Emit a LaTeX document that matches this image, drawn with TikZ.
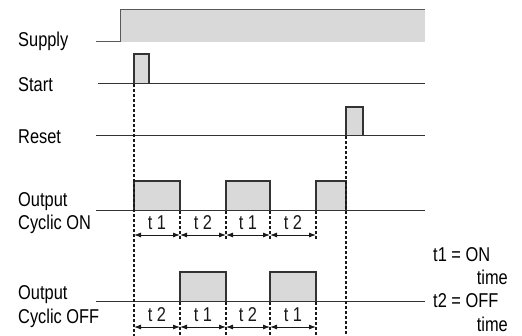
\documentclass[tikz,border=0pt]{standalone}
\usepackage{fontspec}
\setmainfont{Liberation Sans}[FakeStretch=0.82]
\usepackage{tikz}
\usetikzlibrary{arrows.meta}

\begin{document}
\begin{tikzpicture}[x=1pt, y=-1pt,
    senal/.style={black!80, line width=1pt},
    pulso/.style={fill=gray!30, draw=black!80, line width=1.1pt},
    guia/.style={black!90, line width=1.4pt, dash pattern=on 3pt off 2pt},
    tramo/.style={{Latex[length=7pt,width=5pt]}-{Latex[length=7pt,width=5pt]}, black!90, line width=0.9pt},
    texto/.style={anchor=base west, inner sep=0pt, font=\fontsize{20}{24}\selectfont},
    etiq/.style={above=5pt, inner sep=0pt, font=\fontsize{20}{24}\selectfont}]
    \useasboundingbox (0,0) rectangle (522,336);

    % Nombres de las señales
    \node[texto] (supply) at (18,46.5) {Supply};
    \node[texto] (start) at (18,92) {Start};
    \node[texto] (reset) at (18,144) {Reset};
    \node[texto] (outon) at (18,207) {Output};
    \node[texto] (cycon) at (18,230) {Cyclic ON};
    \node[texto] (outoff) at (18,300) {Output};
    \node[texto] (cycoff) at (18,323.5) {Cyclic OFF};

    % Alimentación
    \fill[gray!30] (120,10) rectangle (425,42);
    \draw[senal, black!65] (96,42) -- (120,42) -- (120,10) -- (425,10);

    % Impulsos de Start y Reset
    \draw[pulso] (134,84) |- (149,54) -- (149,84);
    \draw[pulso] (346,136) |- (363,107) -- (363,136);
    \draw[senal] (98,84) -- (425,84);
    \draw[senal] (96,136) -- (425,136);

    % Salida cíclica ON
    \draw[pulso] (134,211) |- (180,181) -- (180,211);
    \draw[pulso] (226,211) |- (270,181) -- (270,211);
    \draw[pulso] (316,211) |- (346,181) -- (346,211);
    \draw[senal] (96,211) -- (425,211);

    % Salida cíclica OFF
    \draw[pulso] (180,302) |- (226,272) -- (226,302);
    \draw[pulso] (270,302) |- (316,272) -- (316,302);
    \draw[senal] (96,302) -- (425,302);

    % Líneas de referencia
    \draw[guia] (134,84) -- (134,336);
    \draw[guia] (346,136) -- (346,336);
    \draw[guia] (180,211) -- (180,239) (226,211) -- (226,239)
                (270,211) -- (270,239) (316,211) -- (316,239);
    \draw[guia] (180,302) -- (180,336) (226,302) -- (226,336)
                (270,302) -- (270,336) (316,302) -- (316,336);

    % Tiempos t1 y t2
    \draw[tramo] (134,235) -- node[etiq] (on1) {t 1} (180,235);
    \draw[tramo] (180,235) -- node[etiq] (on2) {t 2} (226,235);
    \draw[tramo] (226,235) -- node[etiq] (on3) {t 1} (270,235);
    \draw[tramo] (270,235) -- node[etiq] (on4) {t 2} (316,235);
    \draw[tramo] (134,327) -- node[etiq] (off1) {t 2} (180,327);
    \draw[tramo] (180,327) -- node[etiq] (off2) {t 1} (226,327);
    \draw[tramo] (226,327) -- node[etiq] (off3) {t 2} (270,327);
    \draw[tramo] (270,327) -- node[etiq] (off4) {t 1} (316,327);

    % Leyenda
    \node[texto] (ley1) at (433,262) {t1 = ON};
    \node[texto, anchor=base east] (tiempo1) at (508,285) {time};
    \node[texto] (ley2) at (433,308) {t2 = OFF};
    \node[texto, anchor=base east] (tiempo2) at (508,332) {time};
\end{tikzpicture}
\end{document}
